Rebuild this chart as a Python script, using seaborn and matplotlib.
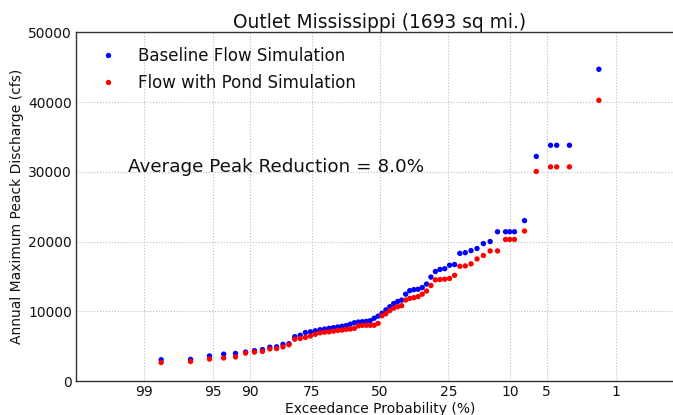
import numpy as np
import pandas as pd
import matplotlib
matplotlib.use("Agg")
import matplotlib.pyplot as plt
import seaborn as sns
from statistics import NormalDist

# Exceedance probability (%) of each annual peak, largest flow first
exceedance_pct = [
    1.54, 3.08, 4.06, 4.62, 6.15, 7.69, 9.23, 10.03, 10.77, 12.31,
    13.85, 15.38, 16.92, 18.46, 20.00, 21.54, 23.08, 24.62, 26.15, 27.69,
    29.23, 30.77, 32.31, 33.85, 35.38, 36.92, 38.46, 40.00, 41.54, 43.08,
    44.62, 46.15, 47.69, 49.23, 50.77, 52.31, 53.85, 55.38, 56.92, 58.46,
    60.00, 61.54, 63.08, 64.62, 66.15, 67.69, 69.23, 70.77, 72.31, 73.85,
    75.38, 76.92, 78.46, 80.00, 81.54, 83.08, 84.62, 86.15, 87.69, 89.23,
    90.77, 92.31, 93.85, 95.38, 96.92, 98.46,
]

# Annual maximum peak discharge (cfs), baseline run
baseline_cfs = [
    44700, 33800, 33800, 33800, 32200, 23000, 21400, 21400, 21400, 21400,
    20000, 19700, 19000, 18700, 18400, 18300, 16700, 16600, 16100, 16000,
    15700, 14900, 13900, 13400, 13150, 13100, 12950, 12450, 11600, 11400,
    11100, 10650, 10200, 9700, 9300, 9000, 8650, 8550, 8500, 8450,
    8350, 8150, 7950, 7850, 7750, 7650, 7550, 7450, 7350, 7200,
    7050, 6950, 6550, 6350, 5350, 5250, 4900, 4850, 4500, 4350,
    4150, 3950, 3850, 3600, 3100, 3050,
]

# Annual maximum peak discharge (cfs), run with ponds
pond_cfs = [
    40250, 30700, 30700, 30700, 30050, 21500, 20300, 20300, 20300, 18650,
    18650, 18000, 17500, 16800, 16500, 16450, 15150, 14700, 14600, 14550,
    14500, 13700, 12900, 12450, 12100, 11950, 11850, 11600, 10800, 10650,
    10450, 10100, 9650, 9350, 8250, 8000, 7990, 7990, 7980, 7900,
    7550, 7450, 7400, 7300, 7250, 7150, 7050, 7000, 6900, 6700,
    6450, 6250, 6100, 6000, 5200, 4900, 4650, 4600, 4250, 4150,
    4000, 3450, 3300, 3150, 2800, 2650,
]

series_names = ["Baseline Flow Simulation", "Flow with Pond Simulation"]
prob_ticks = [99, 95, 90, 75, 50, 25, 10, 5, 1]
flow_ticks = [0, 10000, 20000, 30000, 40000, 50000]

# Normal-probability axis: percent -> standard normal quantile
_nd = NormalDist()


def _inv_cdf_scalar(q):
    if not np.isfinite(q):
        return np.nan
    q = min(max(q, 1e-12), 1 - 1e-12)
    return _nd.inv_cdf(q)


_ppf = np.vectorize(_inv_cdf_scalar, otypes=[float])
_cdf = np.vectorize(lambda z: _nd.cdf(z) if np.isfinite(z) else np.nan, otypes=[float])


def prob_forward(p):
    return _ppf(np.asarray(p, dtype=float) / 100.0)


def prob_inverse(z):
    return 100.0 * _cdf(np.asarray(z, dtype=float))


df = pd.DataFrame({
    "Exceedance": exceedance_pct * 2,
    "Discharge": baseline_cfs + pond_cfs,
    "Series": [series_names[0]] * len(baseline_cfs) + [series_names[1]] * len(pond_cfs),
})

sns.set_theme(style="whitegrid")
plt.rcParams["font.family"] = ["DejaVu Sans"]
plt.rcParams["text.color"] = "#111111"
plt.rcParams["axes.labelcolor"] = "#111111"
plt.rcParams["xtick.color"] = "#111111"
plt.rcParams["ytick.color"] = "#111111"

fig = plt.figure(figsize=(6.73, 4.15), dpi=100)
ax = fig.add_axes([76 / 673, 34 / 415, 608 / 673, 348.7 / 415])

sns.scatterplot(
    data=df, x="Exceedance", y="Discharge", hue="Series",
    hue_order=series_names, palette=["blue", "red"],
    s=15, linewidth=0, ax=ax,
)

ax.set_xscale("function", functions=(prob_forward, prob_inverse))
ax.set_xlim(99.865, 0.135)
ax.set_ylim(0, 50000)
ax.set_xticks(prob_ticks)
ax.set_xticklabels([str(t) for t in prob_ticks])
ax.set_yticks(flow_ticks)
ax.set_yticklabels([str(t) for t in flow_ticks])
ax.minorticks_off()

ax.grid(True, linestyle=":", color="#bdbdbd", linewidth=0.8)
for sp in ax.spines.values():
    sp.set_color("#333333")
    sp.set_linewidth(1.0)
ax.tick_params(axis="both", length=0, labelsize=10)
ax.tick_params(axis="x", pad=3)
ax.tick_params(axis="y", pad=3)

ax.set_title("Outlet Mississippi (1693 sq mi.)", fontsize=13.4, pad=3)
ax.set_xlabel("Exceedance Probability (%)", fontsize=10, labelpad=2)
ax.set_ylabel("Annual Maximum Peack Discharge (cfs)", fontsize=10, labelpad=3)

ax.text(0.085, 30000, "Average Peak Reduction = 8.0%", fontsize=13.2,
        va="baseline", ha="left", transform=ax.get_yaxis_transform())

sns.move_legend(ax, "upper left", title=None, frameon=False, fontsize=12,
                handletextpad=0.8, handlelength=2.0, borderaxespad=0.5,
                labelspacing=0.5)

fig.savefig("out.png", dpi=100)
